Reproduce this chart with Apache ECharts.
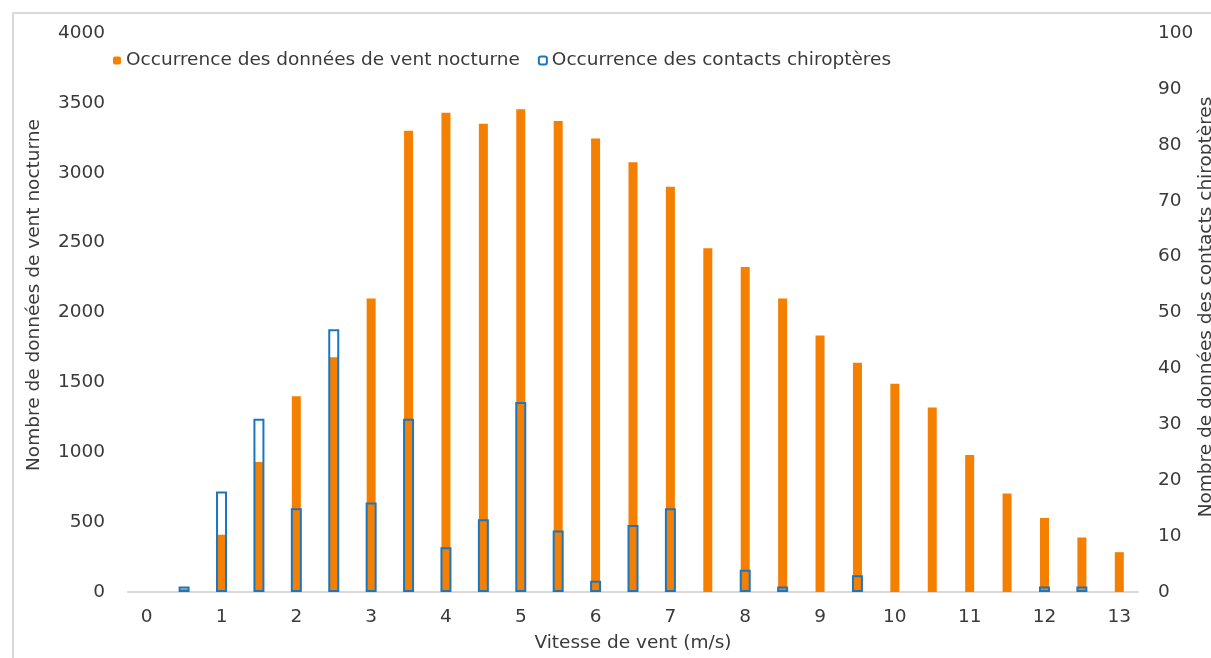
<!DOCTYPE html>
<html>
<head>
<meta charset="utf-8">
<script src="https://cdn.jsdelivr.net/npm/echarts@6/dist/echarts.min.js"></script>
<style>
  html, body { margin: 0; padding: 0; background: #ffffff; }
  #chart { width: 1211px; height: 658px; }
</style>
</head>
<body>
<div id="chart"></div>
<script>
// Wind speed classes (m/s), every 0.5
const categories = ['0','0.5','1','1.5','2','2.5','3','3.5','4','4.5','5','5.5','6','6.5','7','7.5','8','8.5','9','9.5','10','10.5','11','11.5','12','12.5','13'];
// Occurrence of nocturnal wind data (left axis)
const windOccurrence = [0, 25, 410, 930, 1400, 1680, 2100, 3300, 3430, 3350, 3455, 3370, 3245, 3075, 2900, 2460, 2325, 2100, 1835, 1640, 1490, 1320, 980, 705, 530, 390, 285];
// Occurrence of bat contacts (right axis)
const batContacts = [0, 1, 18, 31, 15, 47, 16, 31, 8, 13, 34, 11, 2, 12, 15, 0, 4, 1, 0, 3, 0, 0, 0, 0, 1, 1, 0];

const seriesNames = ['Occurrence des données de vent nocturne', 'Occurrence des contacts chiroptères'];
const xAxisTitle = 'Vitesse de vent (m/s)';
const leftAxisTitle = 'Nombre de données de vent nocturne';
const rightAxisTitle = 'Nombre de données des contacts chiroptères';

const FONT = 'DejaVu Sans';
const TXT = '#3a3a3a';
const ORANGE = '#F57F00';
const BLUE = '#1B76C2';

const chart = echarts.init(document.getElementById('chart'), null, { renderer: 'canvas' });

const option = {
  animation: false,
  backgroundColor: '#ffffff',
  textStyle: { fontFamily: FONT },
  legend: {
    left: 108,
    top: 46,
    itemWidth: 8,
    itemHeight: 8,
    itemGap: 18,
    textStyle: { fontFamily: FONT, fontSize: 18.5, color: TXT },
    data: seriesNames
  },
  grid: { left: 128, right: 73, top: 33, bottom: 62, containLabel: false },
  xAxis: [
    {
      type: 'category',
      data: categories,
      boundaryGap: true,
      axisLine: { show: true, lineStyle: { color: '#d9d9d9', width: 2 } },
      axisTick: { show: false },
      axisLabel: { interval: 1, margin: 16, fontFamily: FONT, fontSize: 18.5, color: TXT },
      splitLine: { show: false },
      name: xAxisTitle,
      nameLocation: 'middle',
      nameGap: 42,
      nameTextStyle: { fontFamily: FONT, fontSize: 18.5, color: TXT }
    },
    {
      type: 'category',
      data: categories,
      boundaryGap: true,
      show: false,
      position: 'bottom'
    }
  ],
  yAxis: [
    {
      type: 'value',
      min: 0, max: 4000, interval: 500,
      axisLine: { show: false },
      axisTick: { show: false },
      splitLine: { show: false },
      axisLabel: { margin: 23, fontFamily: FONT, fontSize: 18.5, color: TXT, formatter: v => String(v) }
    },
    {
      type: 'value',
      position: 'right',
      min: 0, max: 100, interval: 10,
      axisLine: { show: false },
      axisTick: { show: false },
      splitLine: { show: false },
      axisLabel: { margin: 20, fontFamily: FONT, fontSize: 18.5, color: TXT, formatter: v => String(v) }
    }
  ],
  graphic: [
    {
      type: 'rect',
      silent: true,
      shape: { x: 13, y: 13, width: 1400, height: 900 },
      style: { fill: 'none', stroke: '#d9d9d9', lineWidth: 2 },
      z: -10
    },
    {
      type: 'text',
      x: 34, y: 295,
      rotation: Math.PI / 2,
      style: {
        text: leftAxisTitle,
        fontFamily: FONT, fontSize: 18.5, fill: TXT,
        textAlign: 'center', textVerticalAlign: 'middle'
      }
    },
    {
      type: 'text',
      x: 1206, y: 307,
      rotation: Math.PI / 2,
      style: {
        text: rightAxisTitle,
        fontFamily: FONT, fontSize: 18.5, fill: TXT,
        textAlign: 'center', textVerticalAlign: 'middle'
      }
    }
  ],
  series: [
    {
      name: seriesNames[0],
      type: 'bar',
      xAxisIndex: 0,
      yAxisIndex: 0,
      barWidth: 9,
      itemStyle: { color: ORANGE },
      data: windOccurrence.map(v => (v === 0 ? '-' : v))
    },
    {
      name: seriesNames[1],
      type: 'bar',
      xAxisIndex: 1,
      yAxisIndex: 1,
      barWidth: 11,
      itemStyle: { color: 'rgba(255,255,255,0)', borderColor: BLUE, borderWidth: 2 },
      data: batContacts.map(v => (v === 0 ? '-' : v))
    }
  ]
};

chart.setOption(option);
</script>
</body>
</html>
